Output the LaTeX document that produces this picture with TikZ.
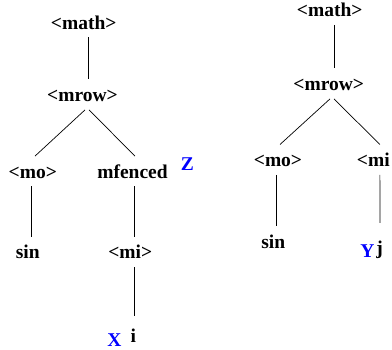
\documentclass[tikz,border=0pt]{standalone}
\usepackage{fontspec}
\setmainfont{Liberation Serif}
\begin{document}
\begin{tikzpicture}[x=1pt,y=-1pt,
  tag/.style={font=\fontsize{19.5}{22}\selectfont\bfseries, inner xsep=0pt,
    inner ysep=3pt, text height=19pt, text depth=5pt, anchor=base},
  var/.style={tag, text=blue},
  branch/.style={line width=0.7pt}]
  \useasboundingbox (0,0) rectangle (392,350);
  % left tree
  \node[tag] (lmath) at (83.7,29.3) {<math>};
  \node[tag] (lmrow) at (82.5,101.7) {<mrow>};
  \node[tag] (lmo) at (32.8,178.3) {<mo>};
  \node[tag] (lfenced) at (132.5,178.3) {mfenced};
  \node[var] (lz) at (187.5,171) {Z};
  \node[tag] (lsin) at (27.8,259) {sin};
  \node[tag] (lmi) at (130.3,259) {<mi>};
  \node[var] (lx) at (114.5,346.7) {X};
  \node[tag] (li) at (133.3,342.7) {i};
  \draw[branch] ([xshift=5pt]lmath.south) -- ([xshift=6.2pt]lmrow.north);
  \draw[branch] ([xshift=2.5pt]lmrow.south) -- ([xshift=2.2pt]lmo.north);
  \draw[branch] ([xshift=6.5pt]lmrow.south) -- ([xshift=2.5pt]lfenced.north);
  \draw[branch] ([xshift=-1.8pt]lmo.south) -- ([xshift=3.2pt]lsin.north);
  \draw[branch] ([xshift=2.2pt]lfenced.south) -- ([xshift=4.4pt]lmi.north);
  \draw[branch] ([xshift=4.4pt]lmi.south) -- ([xshift=1.4pt,yshift=4pt]li.north);
  % right tree
  \node[tag] (rmath) at (329.7,16.7) {<math>};
  \node[tag] (rmrow) at (328.8,90.7) {<mrow>};
  \node[tag] (rmo) at (278,166.7) {<mo>};
  \node[tag, anchor=base west] (rmi) at (356.7,166.7) {<mi};
  \node[tag] (rsin) at (273.3,248.3) {sin};
  \node[var] (ry) at (367.5,257.7) {Y};
  \node[tag] (rj) at (379.7,255) {j};
  \draw[branch] ([xshift=4.3pt]rmath.south) -- ([xshift=5.2pt]rmrow.north);
  \draw[branch] ([xshift=1.2pt]rmrow.south) -- ([xshift=2pt]rmo.north);
  \draw[branch] ([xshift=5.2pt]rmrow.south) -- ([xshift=6.6pt]rmi.north);
  \draw[branch] ([xshift=-1.3pt]rmo.south) -- ([xshift=3.4pt]rsin.north);
  \draw[branch] ([xshift=6.6pt]rmi.south) -- ([xshift=0.3pt,yshift=10pt]rj.north);
\end{tikzpicture}
\end{document}
